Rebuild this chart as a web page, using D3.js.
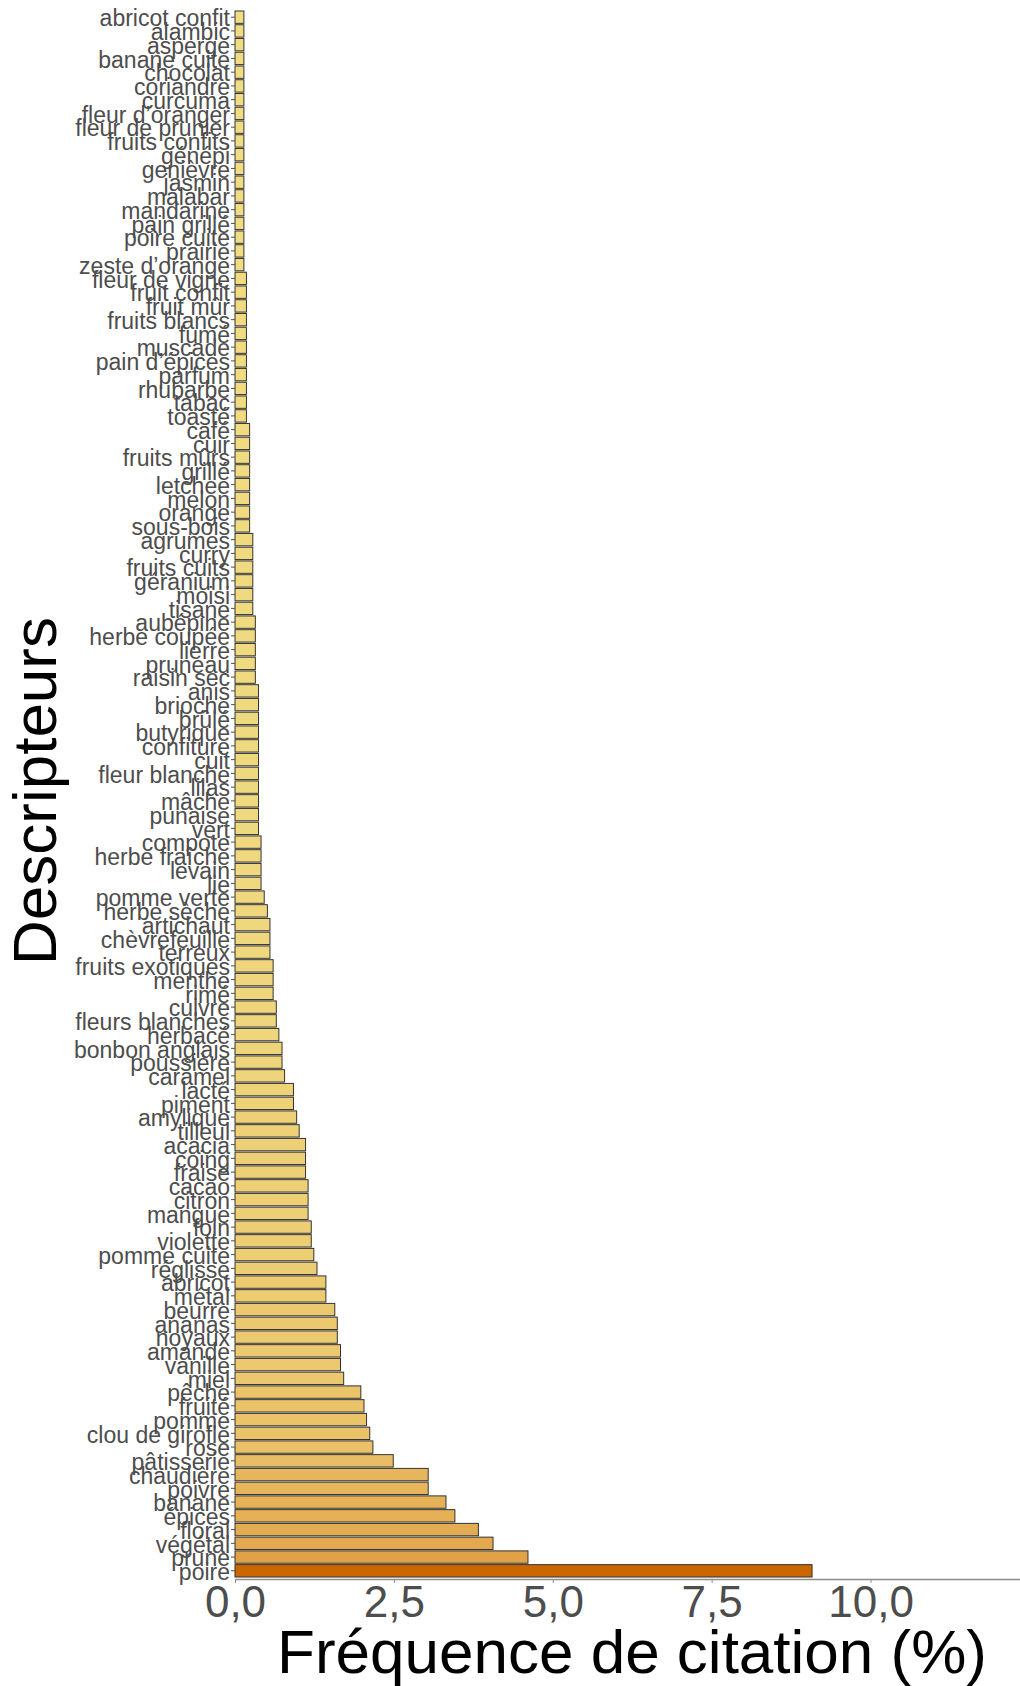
<!DOCTYPE html>
<html>
<head>
<meta charset="utf-8">
<script src="https://cdn.jsdelivr.net/npm/d3@7"></script>
<style>
  html, body { margin: 0; padding: 0; background: #fff; }
  svg { display: block; }
</style>
</head>
<body>
<svg id="chart" width="1020" height="1686"></svg>
<script>
const categories = [
  "abricot confit","alambic","asperge","banane cuite","chocolat","coriandre","curcuma",
  "fleur d’oranger","fleur de prunier","fruits confits","génépi","genièvre","jasmin","malabar",
  "mandarine","pain grillé","poire cuite","prairie","zeste d’orange",
  "fleur de vigne","fruit confit","fruit mûr","fruits blancs","fumé","muscade","pain d’épices",
  "parfum","rhubarbe","tabac","toasté",
  "café","cuir","fruits mûrs","grillé","letchee","melon","orange","sous-bois",
  "agrumes","curry","fruits cuits","géranium","moisi","tisane",
  "aubépine","herbe coupée","lierre","pruneau","raisin sec",
  "anis","brioche","brûlé","butyrique","confiture","cuit","fleur blanche","lilas","mâche","punaise","vert",
  "compote","herbe fraîche","levain","lie",
  "pomme verte","herbe sèche","artichaut","chèvrefeuille","terreux",
  "fruits exotiques","menthe","rimé","cuivre","fleurs blanches","herbacé",
  "bonbon anglais","poussière","caramel","lacté","piment","amylique","tilleul",
  "acacia","coing","fraise","cacao","citron","mangue","foin","violette",
  "pomme cuite","réglisse","abricot","métal","beurre","ananas","noyaux",
  "amande","vanille","miel","pêche","fruité","pomme","clou de girofle","rose",
  "pâtisserie","chaudière","poivre","banane","épices","floral","végétal","prune","poire"
];

const values = [
  0.14,0.14,0.14,0.14,0.14,0.14,0.14,
  0.14,0.14,0.14,0.14,0.14,0.14,0.14,
  0.14,0.14,0.14,0.14,0.14,
  0.18,0.18,0.18,0.18,0.18,0.18,0.18,
  0.18,0.18,0.18,0.18,
  0.23,0.23,0.23,0.23,0.23,0.23,0.23,0.23,
  0.28,0.28,0.28,0.28,0.28,0.28,
  0.32,0.32,0.32,0.32,0.32,
  0.37,0.37,0.37,0.37,0.37,0.37,0.37,0.37,0.37,0.37,0.37,
  0.41,0.41,0.41,0.41,
  0.46,0.51,0.55,0.55,0.55,
  0.60,0.60,0.60,0.65,0.65,0.69,
  0.74,0.74,0.78,0.92,0.92,0.97,1.01,
  1.11,1.11,1.11,1.15,1.15,1.15,1.20,1.20,
  1.24,1.29,1.43,1.43,1.57,1.61,1.61,
  1.66,1.66,1.71,1.98,2.03,2.07,2.12,2.17,
  2.49,3.04,3.04,3.32,3.46,3.83,4.06,4.61,9.08
];

const xTicks = [0, 2.5, 5, 7.5, 10];
const xTickLabels = ["0,0", "2,5", "5,0", "7,5", "10,0"];

const xTitle = "Fréquence de citation (%)";
const yTitle = "Descripteurs";

const FONT = "'Liberation Sans', Arial, Helvetica, sans-serif";

const svg = d3.select("#chart");

const x = d3.scaleLinear().domain([0, 12.352]).range([235, 1020]);
const y = d3.scaleBand().domain(categories).range([10.3, 1577.7])
  .paddingInner(0.1).paddingOuter(0.05);

const color = d3.scaleLinear()
  .domain([d3.min(values), d3.max(values)])
  .range(["#F0DC82", "#CC6600"])
  .interpolate(d3.interpolateLab);

const data = categories.map((c, i) => ({ c, v: values[i] }));

// bars
svg.append("g").selectAll("rect").data(data).join("rect")
  .attr("x", x(0))
  .attr("y", d => y(d.c))
  .attr("width", d => x(d.v) - x(0))
  .attr("height", y.bandwidth())
  .attr("fill", d => color(d.v))
  .attr("stroke", "#333333")
  .attr("stroke-width", 1);

// y axis (labels + ticks, no line)
const yAxis = svg.append("g")
  .attr("transform", `translate(${x(0)},0)`)
  .call(d3.axisLeft(y).tickSize(4).tickPadding(1));
yAxis.select(".domain").remove();
yAxis.selectAll(".tick line").attr("stroke", "#4D4D4D").attr("stroke-width", 1);
yAxis.selectAll(".tick text")
  .attr("font-family", FONT)
  .attr("font-size", 23)
  .attr("fill", "#4D4D4D")
  .attr("dy", "0.4em");

// x axis
const xAxis = svg.append("g")
  .attr("transform", "translate(0,1579)")
  .call(d3.axisBottom(x).tickValues(xTicks)
    .tickFormat((d, i) => xTickLabels[i])
    .tickSize(4).tickSizeOuter(0).tickPadding(2));
xAxis.select(".domain").attr("stroke", "#8c8c8c").attr("stroke-width", 1.3);
xAxis.selectAll(".tick line").attr("stroke", "#8c8c8c").attr("stroke-width", 1);
xAxis.selectAll(".tick text")
  .attr("font-family", FONT)
  .attr("font-size", 44)
  .attr("fill", "#4D4D4D")
  .attr("dy", null)
  .attr("y", 37.7);

// titles
svg.append("text")
  .attr("x", 632)
  .attr("y", 1673)
  .attr("text-anchor", "middle")
  .attr("font-family", FONT)
  .attr("font-size", 62)
  .attr("fill", "#000")
  .text(xTitle);

svg.append("text")
  .attr("transform", "translate(56,791) rotate(-90)")
  .attr("text-anchor", "middle")
  .attr("font-family", FONT)
  .attr("font-size", 62)
  .attr("fill", "#000")
  .text(yTitle);
</script>
</body>
</html>
